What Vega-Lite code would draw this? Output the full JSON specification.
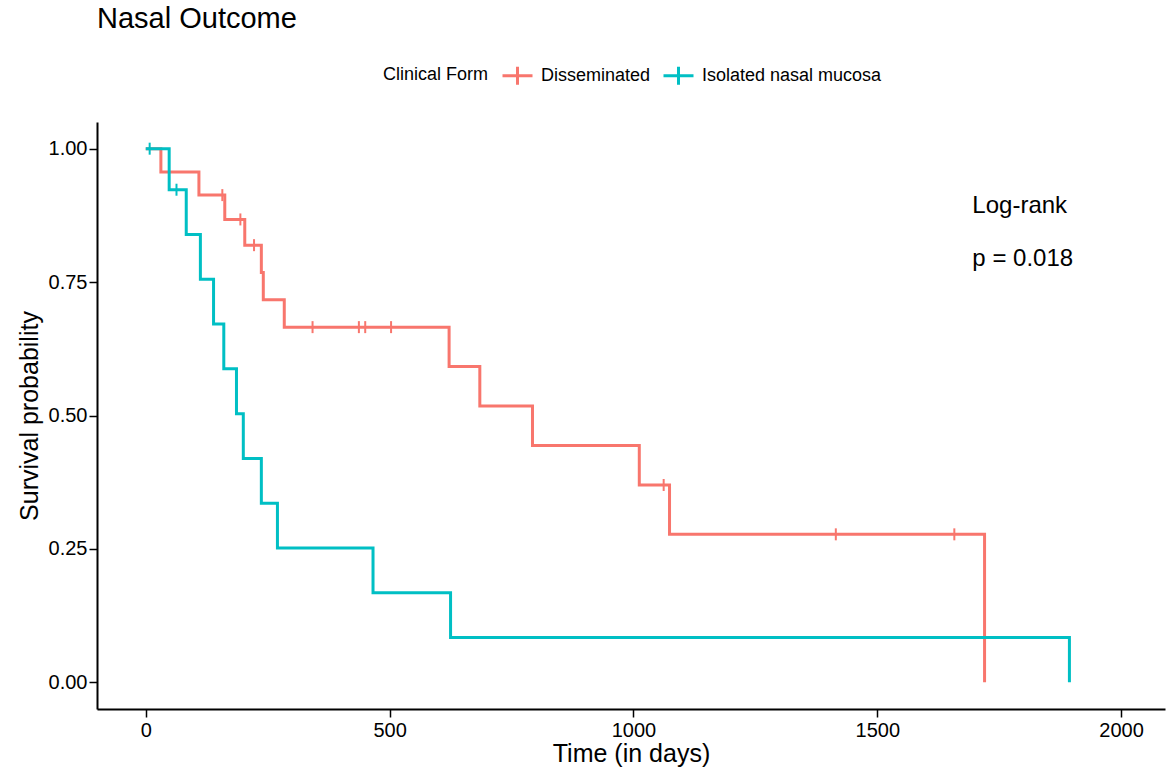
{
  "$schema": "https://vega.github.io/schema/vega-lite/v6.json",
  "width": 1068,
  "height": 587,
  "autosize": "none",
  "padding": {"left": 97, "top": 122, "right": 7, "bottom": 60},
  "background": "white",
  "title": {"text": "Nasal Outcome", "anchor": "start", "frame": "group", "fontSize": 29, "fontWeight": "normal", "font": "Liberation Sans", "color": "black", "offset": 25},
  "datasets": {
    "curve": [
      {"group": "Disseminated", "time": 0, "surv": 1},
      {"group": "Disseminated", "time": 31, "surv": 0.9565},
      {"group": "Disseminated", "time": 109, "surv": 0.913},
      {"group": "Disseminated", "time": 162, "surv": 0.8674},
      {"group": "Disseminated", "time": 203, "surv": 0.8192},
      {"group": "Disseminated", "time": 237, "surv": 0.768},
      {"group": "Disseminated", "time": 241, "surv": 0.7168},
      {"group": "Disseminated", "time": 284, "surv": 0.6656},
      {"group": "Disseminated", "time": 622, "surv": 0.5917},
      {"group": "Disseminated", "time": 685, "surv": 0.5177},
      {"group": "Disseminated", "time": 793, "surv": 0.4437},
      {"group": "Disseminated", "time": 1012, "surv": 0.3698},
      {"group": "Disseminated", "time": 1074, "surv": 0.2773},
      {"group": "Disseminated", "time": 1720, "surv": 0},
      {"group": "Isolated nasal mucosa", "time": 0, "surv": 1},
      {"group": "Isolated nasal mucosa", "time": 48, "surv": 0.9231},
      {"group": "Isolated nasal mucosa", "time": 83, "surv": 0.8392},
      {"group": "Isolated nasal mucosa", "time": 112, "surv": 0.7552},
      {"group": "Isolated nasal mucosa", "time": 139, "surv": 0.6713},
      {"group": "Isolated nasal mucosa", "time": 160, "surv": 0.5874},
      {"group": "Isolated nasal mucosa", "time": 186, "surv": 0.5035},
      {"group": "Isolated nasal mucosa", "time": 200, "surv": 0.4196},
      {"group": "Isolated nasal mucosa", "time": 237, "surv": 0.3357},
      {"group": "Isolated nasal mucosa", "time": 270, "surv": 0.2517},
      {"group": "Isolated nasal mucosa", "time": 466, "surv": 0.1678},
      {"group": "Isolated nasal mucosa", "time": 625, "surv": 0.0839},
      {"group": "Isolated nasal mucosa", "time": 1894, "surv": 0}
    ],
    "censor": [
      {"group": "Disseminated", "time": 157, "surv": 0.913},
      {"group": "Disseminated", "time": 194, "surv": 0.8674},
      {"group": "Disseminated", "time": 222, "surv": 0.8192},
      {"group": "Disseminated", "time": 342, "surv": 0.6656},
      {"group": "Disseminated", "time": 437, "surv": 0.6656},
      {"group": "Disseminated", "time": 450, "surv": 0.6656},
      {"group": "Disseminated", "time": 503, "surv": 0.6656},
      {"group": "Disseminated", "time": 1062, "surv": 0.3698},
      {"group": "Disseminated", "time": 1415, "surv": 0.2773},
      {"group": "Disseminated", "time": 1658, "surv": 0.2773},
      {"group": "Isolated nasal mucosa", "time": 8, "surv": 1},
      {"group": "Isolated nasal mucosa", "time": 63, "surv": 0.9231}
    ],
    "annot": [
      {"time": 1695, "surv": 0.893, "label": "Log-rank"},
      {"time": 1695, "surv": 0.794, "label": "p = 0.018"}
    ]
  },
  "encoding": {
    "x": {"field": "time", "type": "quantitative", "title": "Time (in days)",
      "scale": {"domain": [-100, 2090], "nice": false, "zero": false},
      "axis": {"values": [0, 500, 1000, 1500, 2000], "format": "d", "labelPadding": 3, "titlePadding": 1}},
    "y": {"field": "surv", "type": "quantitative", "title": "Survival probability",
      "scale": {"domain": [-0.05, 1.05], "nice": false, "zero": false},
      "axis": {"values": [0, 0.25, 0.5, 0.75, 1], "format": ".2f", "labelPadding": 2, "titlePadding": 6}}
  },
  "layer": [
    {
      "data": {"name": "curve"},
      "mark": {"type": "line", "interpolate": "step-after", "strokeWidth": 3, "clip": true},
      "encoding": {
        "color": {"field": "group", "type": "nominal", "title": "Clinical Form",
          "scale": {"domain": ["Disseminated", "Isolated nasal mucosa"], "range": ["#F8766D", "#00BFC4"]}}
      }
    },
    {
      "data": {"name": "censor"},
      "mark": {"type": "tick", "orient": "vertical", "size": 12, "thickness": 2, "opacity": 1},
      "encoding": {
        "color": {"field": "group", "type": "nominal", "title": "Clinical Form"}
      }
    },
    {
      "data": {"name": "annot"},
      "mark": {"type": "text", "align": "left", "baseline": "middle", "fontSize": 24, "font": "Liberation Sans", "color": "black"},
      "encoding": {
        "text": {"field": "label"}
      }
    }
  ],
  "config": {
    "view": {"stroke": null},
    "font": "Liberation Sans",
    "axis": {"grid": false, "domainColor": "black", "domainWidth": 2, "tickColor": "black", "tickWidth": 1.5, "tickSize": 8, "labelColor": "black", "labelFontSize": 20, "titleFontSize": 25, "titleFontWeight": "normal", "titleColor": "black", "labelFont": "Liberation Sans", "titleFont": "Liberation Sans"},
    "legend": {
      "orient": "none", "legendX": 286, "legendY": -63, "direction": "horizontal", "titleOrient": "left",
      "symbolType": "M-1,0H1M0,-0.6V0.6", "symbolSize": 900, "symbolStrokeWidth": 3, "symbolFillColor": "transparent", "symbolOpacity": 1,
      "labelFontSize": 18, "titleFontSize": 18, "titleFontWeight": "normal", "labelColor": "black", "titleColor": "black", "labelLimit": 400,
      "columnPadding": 6, "titlePadding": 12, "labelOffset": 7, "labelFont": "Liberation Sans", "titleFont": "Liberation Sans"
    }
  }
}
